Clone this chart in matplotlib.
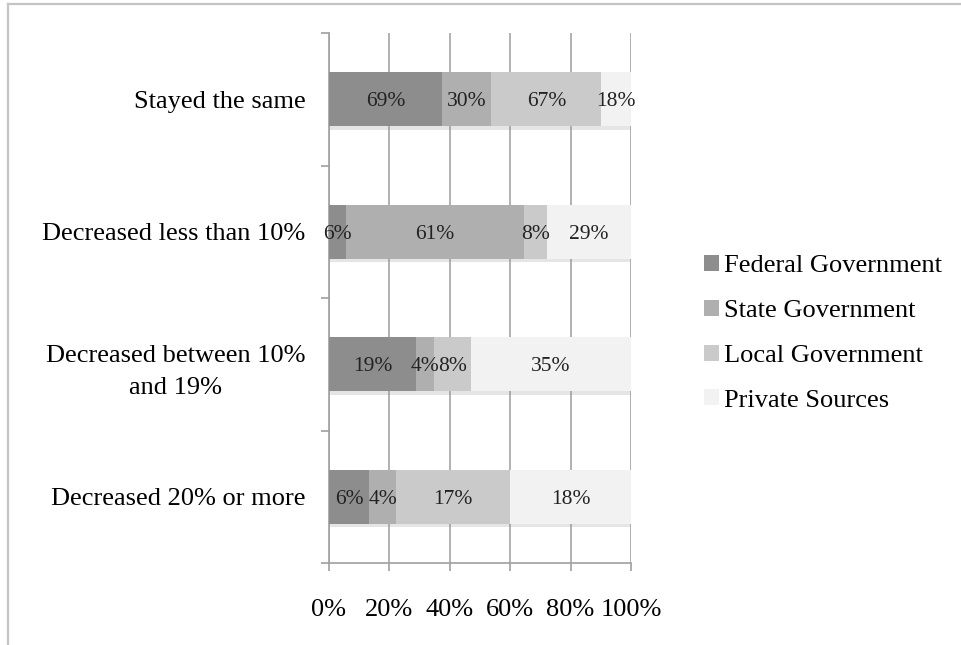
import matplotlib
matplotlib.use("Agg")
import matplotlib.pyplot as plt
import matplotlib.patheffects as pe
from matplotlib.lines import Line2D
import numpy as np

plt.rcParams['font.family'] = ['Liberation Serif', 'DejaVu Serif']

categories = ["Stayed the same", "Decreased less than 10%",
              "Decreased between 10%\nand 19%", "Decreased 20% or more"]
series_names = ["Federal Government", "State Government",
                "Local Government", "Private Sources"]
federal = [69, 6, 19, 6]
state = [30, 61, 4, 4]
local = [67, 8, 8, 17]
private = [18, 29, 35, 18]
colors = ["#8d8d8d", "#afafaf", "#cacaca", "#f2f2f2"]
xticks = [0, 0.2, 0.4, 0.6, 0.8, 1.0]
xticklabels = ["0%", "20%", "40%", "60%", "80%", "100%"]

W, H = 961, 645
fig = plt.figure(figsize=(W / 100, H / 100), dpi=100)
ax = fig.add_axes([329 / W, 1 - 563 / H, (631 - 329) / W, (563 - 33) / H])

data = np.array([federal, state, local, private], dtype=float)
totals = data.sum(axis=0)
shares = data / totals
y = np.arange(len(categories))
left = np.zeros(len(categories))
shadow = [pe.SimplePatchShadow(offset=(1, -2.5), shadow_rgbFace="#9a9a9a", alpha=0.25), pe.Normal()]
for i, name in enumerate(series_names):
    ax.barh(y, shares[i], left=left, height=0.41, color=colors[i],
            label=name, zorder=3, path_effects=shadow)
    for j in range(len(categories)):
        ax.text(left[j] + shares[i][j] / 2, y[j], f"{int(data[i][j])}%",
                ha="center", va="center_baseline", fontsize=15.5, color="#222222", zorder=5)
    left += shares[i]

ax.set_xlim(0, 1)
ax.set_ylim(len(categories) - 0.5, -0.5)
ax.set_yticks(y)
ax.set_yticklabels(categories, fontsize=19, ha="right", multialignment="center",
                   linespacing=1.6)
ax.set_yticks(np.arange(-0.5, len(categories), 1.0), minor=True)
ax.tick_params(axis="y", which="major", length=0, pad=17)
ax.tick_params(axis="y", which="minor", length=6, width=1.2, color="#a0a0a0", direction="out")
ax.set_xticks(xticks)
ax.set_xticklabels(xticklabels, fontsize=19)
ax.tick_params(axis="x", which="major", length=6, width=1.2, color="#a0a0a0", pad=20)
ax.xaxis.grid(True, color="#a4a4a4", linewidth=1.2, zorder=0)
ax.set_axisbelow(True)
for s in ["top", "right"]:
    ax.spines[s].set_visible(False)
for s in ["left", "bottom"]:
    ax.spines[s].set_color("#a0a0a0")
    ax.spines[s].set_linewidth(1.2)

leg = fig.legend(loc="upper left", bbox_to_anchor=(691 / W, 1 - 242 / H),
                 frameon=False, fontsize=19, handlelength=0.55, handleheight=0.55,
                 handletextpad=0.2, labelspacing=0.85, borderpad=0)
for h in leg.legend_handles:
    h.set_path_effects([])

fig.add_artist(Line2D([8 / W, 1], [1 - 3.5 / H, 1 - 3.5 / H], color="#c4c4c4", lw=1.6,
                      transform=fig.transFigure))
fig.add_artist(Line2D([8 / W, 8 / W], [0, 1 - 3.5 / H], color="#c4c4c4", lw=1.6,
                      transform=fig.transFigure))

fig.savefig("out.png", dpi=100)
